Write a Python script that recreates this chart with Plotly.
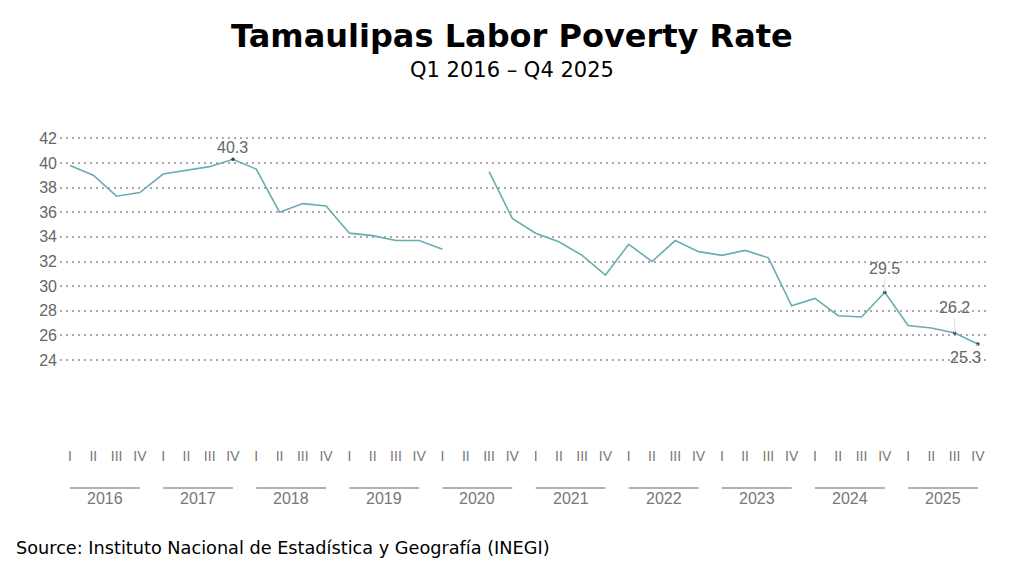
import plotly.graph_objects as go

# Quarterly labor poverty rate, Tamaulipas (2020 Q2 not published)
years = [2016, 2017, 2018, 2019, 2020, 2021, 2022, 2023, 2024, 2025]
quarters = ['I', 'II', 'III', 'IV']
rate = [39.8, 39.0, 37.3, 37.6,
        39.1, 39.4, 39.7, 40.3,
        39.5, 36.0, 36.7, 36.5,
        34.3, 34.1, 33.7, 33.7,
        33.0, None, 39.3, 35.5,
        34.3, 33.6, 32.5, 30.9,
        33.4, 32.0, 33.7, 32.8,
        32.5, 32.9, 32.3, 28.4,
        29.0, 27.6, 27.5, 29.5,
        26.8, 26.6, 26.2, 25.3]
y_ticks = [24, 26, 28, 30, 32, 34, 36, 38, 40, 42]

# labelled points: index, label offset (ax, ay) in px
label_idx = [7, 35, 38, 39]
label_off = [(0, -12), (0, -24), (0, -25), (-12, 13)]

x = list(range(len(rate)))
tick_text = [q for _ in years for q in quarters]

# page has an 8px body margin, so the plot box is set in page pixels
PL, PR, PT, PB = 60, 987, 125, 440


def px_x(px):
    return (px - PL) / (PR - PL)


def px_y(py):
    return (PB - py) / (PB - PT)


fig = go.Figure()

fig.add_trace(
    go.Scatter(x=x, y=rate,
               mode='lines',
               line={'color': '#6aacb0', 'width': 1.6},
               connectgaps=False,
               showlegend=False,
               hoverinfo='skip',
    )
)

# small dots on labelled points
fig.add_trace(
    go.Scatter(x=label_idx, y=[rate[i] for i in label_idx],
               mode='markers',
               marker={'color': '#2b4a55', 'size': 3.5},
               showlegend=False,
               hoverinfo='skip',
    )
)

for i, (ax, ay) in zip(label_idx, label_off):
    fig.add_annotation(
        x=i, y=rate[i], xref='x', yref='y',
        text=f'{rate[i]:.1f}',
        showarrow=True, arrowhead=0, arrowwidth=1,
        arrowcolor='#dddddd' if i != 7 else 'rgba(0,0,0,0)',
        ax=ax, ay=ay, standoff=0,
        font={'family': 'Liberation Sans', 'size': 16, 'color': '#666666'},
    )

# year groups under the quarter labels
for k, yr in enumerate(years):
    fig.add_shape(type='line', xref='x', yref='paper',
                  x0=4 * k, x1=4 * k + 3, y0=px_y(488), y1=px_y(488),
                  line={'color': '#999999', 'width': 1.5})
    fig.add_annotation(x=4 * k + 1.5, y=px_y(498), xref='x', yref='paper',
                       text=str(yr), showarrow=False, yanchor='middle',
                       font={'family': 'Liberation Sans', 'size': 16, 'color': '#777777'})

# titles
fig.add_annotation(x=px_x(512), y=px_y(36), xref='paper', yref='paper',
                   text='<b>Tamaulipas Labor Poverty Rate</b>', showarrow=False,
                   xanchor='center', yanchor='middle',
                   font={'family': 'DejaVu Sans', 'size': 32, 'color': 'black'})
fig.add_annotation(x=px_x(512), y=px_y(70), xref='paper', yref='paper',
                   text='Q1 2016 – Q4 2025', showarrow=False,
                   xanchor='center', yanchor='middle',
                   font={'family': 'DejaVu Sans', 'size': 21, 'color': 'black'})

# source note
fig.add_annotation(
    x=px_x(14), y=px_y(548), xref='paper', yref='paper',
    text='Source: Instituto Nacional de Estadística y Geografía (INEGI)',
    showarrow=False, xanchor='left', yanchor='middle',
    font={'family': 'DejaVu Sans', 'size': 17.7, 'color': 'black'},
)

fig.update_xaxes(
    range=[-0.43, 39.39],
    tickvals=x, ticktext=tick_text,
    showgrid=False, zeroline=False, showline=False,
    ticks='', ticklabelstandoff=6,
    tickfont={'family': 'Liberation Sans', 'size': 14, 'color': '#777777'},
)

fig.update_yaxes(
    range=[17.51, 43.08],
    tickvals=y_ticks,
    showgrid=True, gridcolor='#aaaaaa', griddash='1.5px,4.5px', gridwidth=1.5,
    zeroline=False, showline=False,
    ticks='', ticklabelstandoff=2,
    tickfont={'family': 'Liberation Sans', 'size': 16, 'color': '#666666'},
)

fig.update_layout(
    width=1024, height=585,
    margin=dict(l=PL - 8, r=1024 - PR + 8, t=PT - 8, b=585 - PB + 8, autoexpand=False),
    plot_bgcolor='white', paper_bgcolor='white',
)

fig.write_html('out.html')
